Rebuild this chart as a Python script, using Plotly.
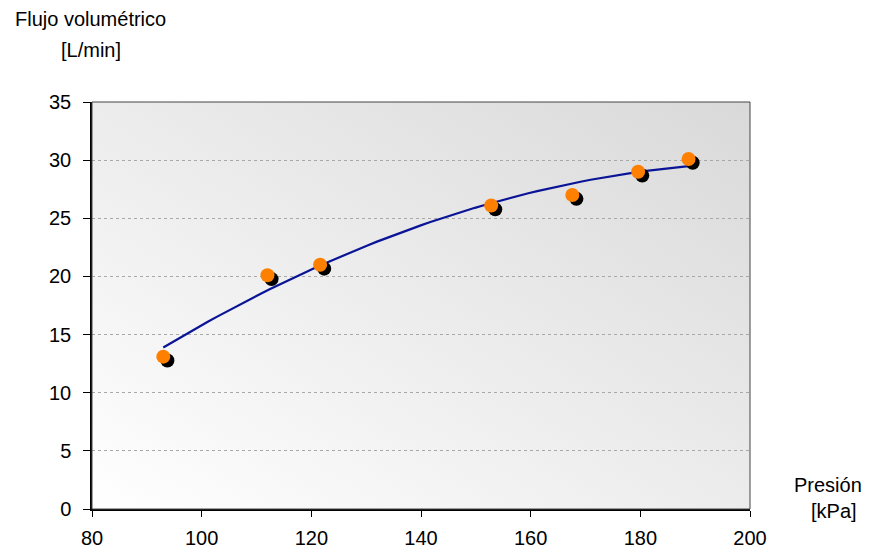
import base64
import numpy as np
import plotly.graph_objects as go

presion = [93, 112, 121.6, 152.8, 167.6, 179.6, 188.8]
flujo = [13.1, 20.1, 21.0, 26.1, 27.0, 29.0, 30.1]
x_ticks = [80, 100, 120, 140, 160, 180, 200]
y_ticks = [0, 5, 10, 15, 20, 25, 30, 35]

coef = np.polyfit(presion, flujo, 2)
xs = np.linspace(min(presion), max(presion), 60)
ys = np.polyval(coef, xs)

svg = ('<svg xmlns="http://www.w3.org/2000/svg" width="100" height="100" preserveAspectRatio="none">'
       '<defs><linearGradient id="g" x1="0" y1="1" x2="1" y2="0">'
       '<stop offset="0" stop-color="#ffffff"/><stop offset="1" stop-color="#d9d9d9"/>'
       '</linearGradient></defs><rect width="100" height="100" fill="url(#g)"/></svg>')
src = "data:image/svg+xml;base64," + base64.b64encode(svg.encode()).decode()

FW, FH = 864, 544
L, R, T, B = 84, 122, 94, 43

fig = go.Figure()
fig.add_trace(go.Scatter(x=xs, y=ys, mode="lines", line=dict(color="#0a1496", width=2.2),
                         hoverinfo="skip", showlegend=False))
fig.add_trace(go.Scatter(x=[p + 0.75 for p in presion], y=[f - 0.33 for f in flujo], mode="markers",
                         marker=dict(color="black", size=14), showlegend=False))
fig.add_trace(go.Scatter(x=presion, y=flujo, mode="markers",
                         marker=dict(color="#ff8000", size=14), showlegend=False))

W, H = FW - L - R, FH - T - B
def px(xp, yp):
    # xp, yp are page pixel positions; page has 8px body margin
    return (xp - 8 - L) / W, (FH - B - (yp - 8)) / H

anns = []
for txt, xp, yp in [("Flujo volumétrico", 90, 19), ("[L/min]", 91, 50), ("Presión", 828, 485), ("[kPa]", 834, 511)]:
    ax, ay = px(xp, yp)
    anns.append(dict(text=txt, x=ax, y=ay, xref="paper", yref="paper", showarrow=False,
                     xanchor="center", yanchor="middle", font=dict(size=20)))

fig.update_layout(
    width=FW, height=FH,
    margin=dict(l=L, r=R, t=T, b=B, autoexpand=False),
    paper_bgcolor="white", plot_bgcolor="white",
    font=dict(family="Liberation Sans, Arial, sans-serif", size=20, color="black"),
    images=[dict(source=src, xref="paper", yref="paper", x=0, y=1, sizex=1, sizey=1,
                 sizing="stretch", layer="below")],
    xaxis=dict(range=[80, 200], tickvals=x_ticks, showgrid=False, zeroline=False,
               ticks="outside", ticklen=6, tickcolor="black", showline=True, linecolor="black",
               linewidth=1.5, tickfont=dict(size=20), ticklabelstandoff=4),
    yaxis=dict(range=[0, 35], tickvals=y_ticks, showgrid=True, gridcolor="#a8a8a8", griddash="dot",
               gridwidth=1, zeroline=False, ticks="outside", ticklen=7, tickcolor="black",
               showline=True, linecolor="black", linewidth=1.5, tickfont=dict(size=20),
               ticklabelstandoff=8),
    shapes=[dict(type="rect", xref="paper", yref="paper", x0=0, y0=0, x1=1, y1=1,
                 line=dict(color="#444444", width=1), layer="above")],
    annotations=anns,
)

fig.write_html("out.html")
